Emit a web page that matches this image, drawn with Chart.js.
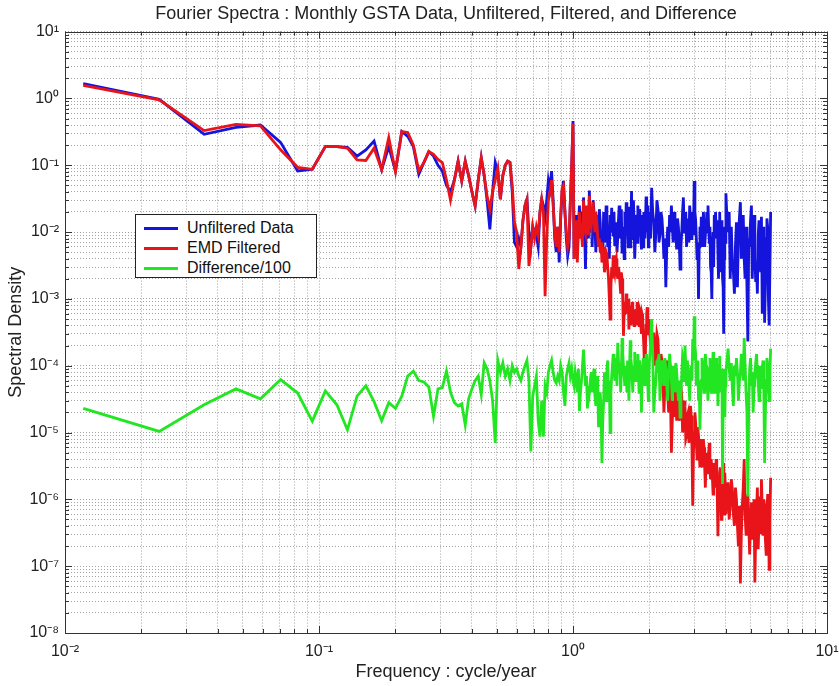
<!DOCTYPE html>
<html>
<head>
<meta charset="utf-8">
<script src="https://cdn.jsdelivr.net/npm/chart.js@4.4.1/dist/chart.umd.min.js"></script>
<style>
  body { margin: 0; background: #fff; }
  #wrap { position: relative; width: 839px; height: 686px; }
  #legend {
    position: absolute; left: 135px; top: 214px; width: 182px; height: 64px;
    background: #fff; border: 1px solid #222; box-sizing: border-box;
    font-family: "Liberation Sans", Arial, sans-serif; font-size: 16px; color: #111;
  }
  .row { position: absolute; left: 0; height: 20px; line-height: 20px; }
  .swatch { position: absolute; left: 8px; top: 9px; width: 34px; height: 3px; }
  .txt { position: absolute; left: 51px; top: 0; white-space: nowrap; }
</style>
</head>
<body>
<div id="wrap">
  <canvas id="chart" width="839" height="686"></canvas>
  <div id="legend"></div>
</div>
<script>
// ==========================
// DATA
// ==========================
const chartTitle = "Fourier Spectra : Monthly GSTA Data, Unfiltered, Filtered, and Difference";
const seriesLabels = ["Unfiltered Data", "EMD Filtered", "Difference/100"];

const xTickValues = [0.01, 0.1, 1, 10];
const xTickLabels = ["10\u207B\u00B2", "10\u207B\u00B9", "10\u2070", "10\u00B9"];
const yTickValues = [1e-8, 1e-7, 1e-6, 1e-5, 1e-4, 1e-3, 1e-2, 1e-1, 1, 10];
const yTickLabels = ["10\u207B\u2078", "10\u207B\u2077", "10\u207B\u2076", "10\u207B\u2075", "10\u207B\u2074",
                     "10\u207B\u00B3", "10\u207B\u00B2", "10\u207B\u00B9", "10\u2070", "10\u00B9"];

// frequency, cycle/year
const freq = [
  0.0118, 0.0235, 0.0353, 0.0471, 0.0588, 0.0706, 0.0824, 0.0941, 0.1059, 0.1176,
  0.1294, 0.1412, 0.1529, 0.1647, 0.1765, 0.1882, 0.2000, 0.2118, 0.2235, 0.2353,
  0.2471, 0.2588, 0.2706, 0.2824, 0.2941, 0.3059, 0.3176, 0.3294, 0.3412, 0.3529,
  0.3647, 0.3765, 0.3882, 0.4000, 0.4118, 0.4235, 0.4353, 0.4471, 0.4588, 0.4706,
  0.4824, 0.4941, 0.5059, 0.5176, 0.5294, 0.5412, 0.5529, 0.5647, 0.5765, 0.5882,
  0.6000, 0.6118, 0.6235, 0.6353, 0.6471, 0.6588, 0.6706, 0.6824, 0.6941, 0.7059,
  0.7176, 0.7294, 0.7412, 0.7529, 0.7647, 0.7765, 0.7882, 0.8000, 0.8118, 0.8235,
  0.8353, 0.8471, 0.8588, 0.8706, 0.8824, 0.8941, 0.9059, 0.9176, 0.9294, 0.9412,
  0.9529, 0.9647, 0.9765, 0.9882, 1.0000,
  1.01, 1.02, 1.03, 1.04, 1.05, 1.06, 1.07, 1.08, 1.09, 1.10,
  1.11, 1.12, 1.13, 1.14, 1.15, 1.16, 1.17, 1.18, 1.19, 1.20,
  1.21, 1.22, 1.23, 1.24, 1.25, 1.26, 1.27, 1.28, 1.29, 1.30,
  1.31, 1.32, 1.33, 1.34, 1.35, 1.36, 1.37, 1.38, 1.39, 1.40,
  1.41, 1.42, 1.43, 1.44, 1.45, 1.46, 1.47, 1.48, 1.49, 1.50,
  1.51, 1.52, 1.53, 1.54, 1.55, 1.56, 1.57, 1.58, 1.59, 1.60,
  1.61, 1.62, 1.63, 1.64, 1.65, 1.66, 1.67, 1.68, 1.69, 1.70,
  1.71, 1.72, 1.73, 1.74, 1.75, 1.76, 1.77, 1.78, 1.79, 1.80,
  1.81, 1.82, 1.83, 1.84, 1.85, 1.86, 1.87, 1.88, 1.89, 1.90,
  1.91, 1.92, 1.93, 1.94, 1.95, 1.96, 1.97, 1.98, 1.99, 2.00,
  2.02, 2.04, 2.06, 2.08, 2.10, 2.12, 2.14, 2.16, 2.18, 2.20,
  2.22, 2.24, 2.26, 2.28, 2.30, 2.32, 2.34, 2.36, 2.38, 2.40,
  2.42, 2.44, 2.46, 2.48, 2.50, 2.52, 2.54, 2.56, 2.58, 2.60,
  2.62, 2.64, 2.66, 2.68, 2.70, 2.72, 2.74, 2.76, 2.78, 2.80,
  2.82, 2.84, 2.86, 2.88, 2.90, 2.92, 2.94, 2.96, 2.98, 3.00,
  3.02, 3.04, 3.06, 3.08, 3.10, 3.12, 3.14, 3.16, 3.18, 3.20,
  3.22, 3.24, 3.26, 3.28, 3.30, 3.32, 3.34, 3.36, 3.38, 3.40,
  3.42, 3.44, 3.46, 3.48, 3.50, 3.52, 3.54, 3.56, 3.58, 3.60,
  3.62, 3.64, 3.66, 3.68, 3.70, 3.72, 3.74, 3.76, 3.78, 3.80,
  3.82, 3.84, 3.86, 3.88, 3.90, 3.92, 3.94, 3.96, 3.98, 4.00,
  4.04, 4.08, 4.12, 4.16, 4.20, 4.24, 4.28, 4.32, 4.36, 4.40,
  4.44, 4.48, 4.52, 4.56, 4.60, 4.64, 4.68, 4.72, 4.76, 4.80,
  4.84, 4.88, 4.92, 4.96, 5.00, 5.04, 5.08, 5.12, 5.16, 5.20,
  5.24, 5.28, 5.32, 5.36, 5.40, 5.44, 5.48, 5.52, 5.56, 5.60,
  5.64, 5.68, 5.72, 5.76, 5.80, 5.84, 5.88, 5.92, 5.96, 6.00
];

const unfiltered = [
  1.66, 0.97, 0.29, 0.37, 0.40, 0.22, 0.082, 0.087, 0.19, 0.19,
  0.185, 0.137, 0.17, 0.23, 0.086, 0.19, 0.082, 0.32, 0.27, 0.19,
  0.073, 0.11, 0.16, 0.137, 0.10, 0.082, 0.05, 0.04, 0.06, 0.115,
  0.058, 0.115, 0.07, 0.04, 0.0245, 0.06, 0.13, 0.07, 0.03, 0.011,
  0.04, 0.11, 0.08, 0.031, 0.07, 0.1, 0.115, 0.11, 0.04, 0.007,
  0.006, 0.008, 0.006, 0.015, 0.025, 0.031, 0.01, 0.006, 0.012, 0.01,
  0.009, 0.006, 0.02, 0.031, 0.025, 0.017, 0.03, 0.06, 0.045, 0.082,
  0.03, 0.008, 0.005, 0.012, 0.0035, 0.015, 0.04, 0.058, 0.02, 0.008,
  0.0044, 0.006, 0.03, 0.1, 0.46,
  0.004, 0.01, 0.018, 0.006, 0.012, 0.025, 0.009, 0.02, 0.007, 0.033,
  0.012, 0.0028, 0.02, 0.015, 0.008, 0.042, 0.01, 0.02, 0.006, 0.03,
  0.02, 0.012, 0.005, 0.018, 0.011, 0.006, 0.022, 0.014, 0.005, 0.009,
  0.004, 0.02, 0.012, 0.007, 0.025, 0.016, 0.006, 0.01, 0.004, 0.018,
  0.01, 0.023, 0.012, 0.009, 0.02, 0.0062, 0.01, 0.014, 0.005, 0.008,
  0.015, 0.025, 0.008, 0.015, 0.022, 0.005, 0.012, 0.009, 0.004, 0.02,
  0.009, 0.028, 0.015, 0.01, 0.006, 0.016, 0.024, 0.006, 0.012, 0.041,
  0.008, 0.02, 0.03, 0.012, 0.004, 0.008, 0.015, 0.018, 0.007, 0.025,
  0.014, 0.009, 0.022, 0.014, 0.008, 0.0055, 0.018, 0.012, 0.006, 0.02,
  0.012, 0.008, 0.015, 0.034, 0.01, 0.015, 0.025, 0.006, 0.011, 0.02,
  0.008, 0.046, 0.02, 0.014, 0.005, 0.01, 0.03, 0.022, 0.007, 0.009,
  0.02, 0.016, 0.009, 0.004, 0.008, 0.0015, 0.006, 0.012, 0.006, 0.018,
  0.01, 0.025, 0.012, 0.007, 0.02, 0.015, 0.009, 0.0055, 0.016, 0.012,
  0.007, 0.0028, 0.006, 0.01, 0.02, 0.033, 0.01, 0.012, 0.02, 0.006,
  0.01, 0.016, 0.007, 0.025, 0.015, 0.008, 0.012, 0.02, 0.009, 0.058,
  0.02, 0.015, 0.008, 0.004, 0.007, 0.001, 0.006, 0.012, 0.006, 0.017,
  0.01, 0.006, 0.02, 0.014, 0.006, 0.009, 0.015, 0.02, 0.01, 0.025,
  0.012, 0.007, 0.012, 0.003, 0.0025, 0.001, 0.005, 0.01, 0.003, 0.018,
  0.009, 0.02, 0.012, 0.008, 0.015, 0.005, 0.002, 0.012, 0.02, 0.006,
  0.0025, 0.015, 0.008, 0.002, 0.0015, 0.0003, 0.004, 0.012, 0.007, 0.038,
  0.015, 0.01, 0.02, 0.002, 0.012, 0.0035, 0.0025, 0.0012, 0.006, 0.014,
  0.0015, 0.009, 0.016, 0.028, 0.004, 0.008, 0.018, 0.004, 0.002, 0.012,
  0.0015, 0.00023, 0.008, 0.006, 0.015, 0.025, 0.002, 0.01, 0.018, 0.004,
  0.0018, 0.0028, 0.0012, 0.009, 0.015, 0.005, 0.0025, 0.017, 0.0006, 0.006,
  0.012, 0.00044, 0.0015, 0.008, 0.016, 0.012, 0.001, 0.0004, 0.0004, 0.02
];

const emdFiltered = [
  1.57, 0.95, 0.33, 0.41, 0.39, 0.17, 0.093, 0.087, 0.19, 0.19,
  0.18, 0.12, 0.118, 0.18, 0.086, 0.26, 0.08, 0.32, 0.31, 0.2,
  0.082, 0.11, 0.16, 0.145, 0.122, 0.11, 0.06, 0.03, 0.06, 0.115,
  0.058, 0.115, 0.07, 0.04, 0.0245, 0.06, 0.13, 0.07, 0.035, 0.022,
  0.04, 0.06, 0.09, 0.031, 0.07, 0.1, 0.115, 0.11, 0.05, 0.014,
  0.01, 0.0028, 0.006, 0.015, 0.025, 0.031, 0.0031, 0.006, 0.012, 0.008,
  0.012, 0.009, 0.02, 0.031, 0.02, 0.0011, 0.008, 0.03, 0.04, 0.06,
  0.025, 0.01, 0.006, 0.012, 0.005, 0.018, 0.045, 0.05, 0.02, 0.01,
  0.006, 0.008, 0.03, 0.1, 0.42,
  0.004, 0.008, 0.015, 0.0035, 0.01, 0.02, 0.008, 0.01, 0.006, 0.03,
  0.012, 0.01, 0.025, 0.02, 0.009, 0.035, 0.015, 0.012, 0.02, 0.028,
  0.015, 0.01, 0.02, 0.015, 0.009, 0.006, 0.008, 0.005, 0.007, 0.0035,
  0.005, 0.006, 0.0025, 0.003, 0.005, 0.0045, 0.003, 0.002, 0.001, 0.0005,
  0.0015, 0.003, 0.002, 0.0045, 0.003, 0.0025, 0.0035, 0.004, 0.0025, 0.002,
  0.003, 0.0025, 0.0018, 0.0012, 0.0025, 0.002, 0.001, 0.00028, 0.0006, 0.0009,
  0.0007, 0.0012, 0.0008, 0.0006, 0.001, 0.00035, 0.0006, 0.0008, 0.0004, 0.0005,
  0.0009, 0.0007, 0.0005, 0.0004, 0.0007, 0.0006, 0.0004, 0.0005, 0.0009, 0.00075,
  0.0005, 0.0004, 0.0007, 0.00065, 0.0004, 0.0003, 0.0006, 0.00055, 0.0003, 0.0002,
  0.0001, 0.00005, 0.0002, 0.0004, 0.0006, 0.00075, 0.0004, 0.0003, 0.0005, 0.0004,
  0.0002, 0.00018, 0.0003, 0.0003, 0.0001, 0.00015, 0.0003, 0.00025, 0.0001, 0.00006,
  0.00015, 0.00012, 0.00006, 0.00002, 0.00005, 0.00008, 0.00012, 0.00004, 0.00002, 0.00007,
  3e-5, 5e-6, 1.5e-5, 3e-5, 1.8e-5, 6e-5, 3e-5, 1.5e-5, 3e-5, 4e-5,
  1.5e-5, 2e-5, 5e-5, 3.5e-5, 1e-5, 1.2e-5, 3e-5, 2.5e-5, 8e-6, 9e-6,
  1.8e-5, 2e-5, 7e-6, 1.2e-5, 2.5e-5, 1.8e-5, 6e-6, 8e-7, 5e-6, 1e-5,
  2e-5, 1.4e-5, 7e-6, 4e-6, 1.2e-5, 9e-6, 5e-6, 3e-6, 6e-6, 8e-6,
  3e-6, 4.5e-6, 8e-6, 6e-6, 3e-6, 1.5e-6, 4e-6, 5e-6, 2.5e-6, 3e-6,
  5e-6, 7e-6, 3e-6, 2e-6, 4e-6, 4e-6, 2e-6, 1.2e-6, 2.5e-6, 3.5e-6,
  1.5e-6, 2e-6, 4e-6, 2.8e-6, 1e-6, 2.8e-7, 8e-7, 1.5e-6, 2.5e-6, 3e-6,
  1.2e-6, 5e-7, 1.2e-6, 2e-6, 3.5e-6, 1e-6, 6e-7, 2.5e-6, 1.5e-6, 6e-7,
  1.2e-6, 1.8e-6, 5e-7, 8e-7, 2e-6, 1.4e-6, 6e-7, 4e-7, 1.5e-6, 1e-6,
  4e-7, 2e-7, 8e-7, 5.5e-8, 3e-7, 8e-7, 1.5e-6, 4e-6, 6e-7, 3e-7,
  9e-7, 1.2e-6, 4e-7, 1.5e-7, 5e-7, 9e-7, 2.5e-7, 4e-7, 1e-6, 5.7e-8,
  3e-7, 6e-7, 1.5e-6, 1.8e-7, 5e-7, 1.1e-6, 3e-7, 2e-6, 7e-7, 3e-7,
  1e-6, 8e-7, 2.5e-7, 1.5e-7, 6e-7, 1.2e-6, 4e-7, 9e-8, 5e-7, 2.1e-6
];

const difference = [
  2.3e-5, 1.04e-5, 2.6e-5, 4.5e-5, 3.2e-5, 6.2e-5, 3.9e-5, 1.48e-5, 4.2e-5, 2.6e-5,
  1.1e-5, 3.5e-5, 5e-5, 2.9e-5, 1.5e-5, 2.8e-5, 2.3e-5, 3.5e-5, 7e-5, 8.3e-5,
  6e-5, 5.7e-5, 4.8e-5, 1.75e-5, 4.5e-5, 4.7e-5, 8.3e-5, 4e-5, 2.8e-5, 2.5e-5,
  2.7e-5, 1.3e-5, 3.2e-5, 4.5e-5, 6e-5, 7e-5, 3.7e-5, 1.1e-4, 9e-5, 6e-5,
  3e-5, 7e-6, 1.2e-4, 8e-5, 1.1e-4, 7e-5, 9e-5, 6e-5, 1e-4, 8e-5,
  9e-5, 7e-5, 6e-5, 8e-5, 1e-4, 1.2e-4, 6e-5, 5.2e-6, 3.5e-5, 5e-5,
  7e-5, 1.5e-5, 8.7e-6, 3e-5, 8.7e-6, 5e-5, 4e-5, 8e-5, 1e-4, 1.2e-4,
  8e-5, 6e-5, 5.5e-5, 7e-5, 6e-5, 1e-4, 8e-5, 4e-5, 2.5e-5, 7e-5,
  9e-5, 1.1e-4, 7e-5, 9e-5, 6e-5,
  5e-5, 8e-5, 6e-5, 4e-5, 9e-5, 2.1e-5, 4e-5, 6e-5, 1e-4, 1.75e-4,
  9e-5, 5e-5, 7e-5, 2.3e-5, 5e-5, 4e-5, 6e-5, 8e-5, 4e-5, 7e-5,
  9e-5, 3.5e-5, 2.5e-5, 5e-5, 7e-5, 1.2e-5, 3e-5, 4e-5, 2e-5, 3.5e-6,
  1.5e-5, 3e-5, 8e-5, 6e-5, 3e-5, 9e-5, 1.2e-4, 3e-5, 6e-5, 1e-5,
  4e-5, 7e-5, 1e-4, 1.5e-4, 9e-5, 6e-5, 1.3e-4, 1e-4, 5e-5, 2.2e-4,
  1.2e-4, 8e-5, 1.1e-4, 4e-5, 8e-5, 2.6e-4, 1.5e-4, 1e-4, 7e-5, 5e-5,
  1e-4, 7.8e-5, 4e-5, 1.2e-4, 7e-5, 3e-5, 9e-5, 2.4e-4, 1.3e-4, 1e-4,
  6e-5, 4e-5, 1e-4, 8e-5, 1.6e-4, 6e-5, 9e-5, 1.2e-4, 7e-5, 1.5e-4,
  8e-5, 4e-5, 1.2e-4, 9e-5, 5e-5, 2e-5, 6e-5, 7e-5, 1.3e-4, 1.1e-4,
  7e-5, 5e-5, 9e-5, 1.5e-4, 1e-4, 8e-5, 5e-5, 3e-5, 7e-5, 1.2e-4,
  2e-4, 5e-4, 1.5e-4, 2e-5, 4e-5, 6e-5, 1.2e-4, 7.8e-5, 1.5e-4, 3e-5,
  6e-5, 1.2e-4, 8e-5, 5e-5, 1.3e-4, 9e-5, 5e-5, 3e-5, 8e-5, 1.5e-4,
  1e-4, 6e-5, 3e-5, 1e-4, 7e-5, 4e-5, 1.1e-4, 8e-5, 5e-5, 3e-5,
  6e-5, 1.7e-5, 4e-5, 7e-5, 1.4e-4, 1.2e-4, 6e-5, 2e-4, 1e-4, 5e-5,
  1.2e-4, 7.8e-5, 5e-5, 3e-5, 7e-5, 1e-4, 6e-5, 2.5e-4, 1.2e-4, 5.5e-4,
  2e-4, 1.5e-4, 5e-5, 7.8e-5, 1.2e-4, 3e-5, 6e-5, 1.1e-5, 3e-5, 6e-5,
  1.3e-4, 1e-4, 6e-5, 4e-5, 8e-5, 1.5e-4, 1e-4, 8e-5, 5e-5, 3e-5,
  7e-5, 9e-5, 1.3e-4, 6e-5, 4e-5, 1.2e-4, 8e-5, 1.6e-4, 9e-5, 4e-5,
  6e-5, 9e-5, 1.3e-4, 5e-5, 8e-5, 2.5e-5, 5e-5, 1e-4, 1.4e-4, 6e-5,
  4e-5, 9e-5, 5e-5, 1.7e-6, 3e-5, 4e-5, 9e-5, 1.7e-5, 5e-5, 8e-5,
  1.2e-4, 1.8e-4, 9e-5, 6e-5, 1.1e-4, 4.5e-5, 2.5e-5, 1e-4, 7e-5, 1.3e-4,
  8e-5, 3e-5, 6e-5, 7.8e-5, 1.5e-4, 1.2e-4, 6e-5, 2.6e-4, 1e-4, 4e-5,
  2e-5, 1.1e-6, 3e-5, 9e-5, 1.3e-4, 5e-5, 8e-5, 2e-5, 5e-5, 8e-5,
  1.1e-4, 1.5e-4, 7e-5, 6e-5, 3e-5, 1e-4, 7e-5, 4.5e-5, 9e-5, 1.2e-4,
  4e-5, 3.5e-6, 2e-5, 6e-5, 1.3e-4, 1e-4, 5e-5, 3e-5, 8e-5, 1.8e-4
];

// ==========================
// HELPERS
// ==========================
const FONT = '"Liberation Sans", Arial, sans-serif';

function toPoints(values) {
  return freq.map((f, i) => ({ x: f, y: values[i] }));
}

// decades plus the 2..9 sub-ticks between them (log grid like matlab)
function withMinor(majors) {
  let out = [];
  for (let i = 0; i < majors.length; i++) {
    out.push(majors[i]);
    if (i < majors.length - 1) {
      for (let m = 2; m <= 9; m++) out.push(majors[i] * m);
    }
  }
  return out;
}

function labelFor(value, values, labels) {
  for (let i = 0; i < values.length; i++) {
    if (Math.abs(Math.log10(value) - Math.log10(values[i])) < 1e-6) return labels[i];
  }
  return "";
}

// box around the axes + little inward ticks on all four sides
const boxPlugin = {
  id: "box",
  afterDraw(chart) {
    const ctx = chart.ctx;
    const a = chart.chartArea;
    const xs = chart.scales.x, ys = chart.scales.y;
    ctx.save();
    ctx.strokeStyle = "#333";
    ctx.lineWidth = 1;
    ctx.beginPath();
    withMinor(xTickValues).forEach(v => {
      const px = Math.round(xs.getPixelForValue(v)) + 0.5;
      const len = labelFor(v, xTickValues, xTickLabels) ? 7 : 4;
      ctx.moveTo(px, a.bottom); ctx.lineTo(px, a.bottom - len);
      ctx.moveTo(px, a.top); ctx.lineTo(px, a.top + len);
    });
    withMinor(yTickValues).forEach(v => {
      const py = Math.round(ys.getPixelForValue(v)) + 0.5;
      const len = labelFor(v, yTickValues, yTickLabels) ? 7 : 4;
      ctx.moveTo(a.left, py); ctx.lineTo(a.left + len, py);
      ctx.moveTo(a.right, py); ctx.lineTo(a.right - len, py);
    });
    ctx.stroke();
    ctx.strokeRect(Math.round(a.left) + 0.5, Math.round(a.top) + 0.5,
                   Math.round(a.right - a.left), Math.round(a.bottom - a.top));
    ctx.restore();
  }
};

// ==========================
// CHART
// ==========================
const colors = ["#1414dc", "#e8141a", "#22e622"];
const seriesData = [unfiltered, emdFiltered, difference];

const gridStyle = { color: "rgba(90,90,90,0.55)", lineWidth: 1, drawTicks: false };

const chart = new Chart(document.getElementById("chart"), {
  type: "line",
  data: {
    datasets: seriesData.map((vals, i) => ({
      label: seriesLabels[i],
      data: toPoints(vals),
      borderColor: colors[i],
      backgroundColor: colors[i],
      borderWidth: 2.8,
      pointRadius: 0,
      tension: 0,
      order: 3 - i
    }))
  },
  options: {
    responsive: false,
    animation: false,
    events: [],
    layout: { padding: { left: 0, right: 12, top: 0, bottom: 0 } },
    plugins: {
      legend: { display: false },
      tooltip: { enabled: false },
      title: {
        display: true,
        text: chartTitle,
        fullSize: false,
        color: "#222",
        font: { family: FONT, size: 18, weight: "normal" },
        padding: { top: 3, bottom: 7 }
      }
    },
    scales: {
      x: {
        type: "logarithmic",
        min: 0.01,
        max: 10,
        afterBuildTicks: s => { s.ticks = withMinor(xTickValues).map(v => ({ value: v })); },
        afterFit: s => { s.height = 53; s.paddingLeft = 0; s.paddingRight = 0; },
        ticks: {
          autoSkip: false,
          maxRotation: 0,
          padding: 9,
          color: "#222",
          font: { family: FONT, size: 16 },
          callback: v => labelFor(v, xTickValues, xTickLabels)
        },
        grid: gridStyle,
        border: { display: false, dash: [1, 2] },
        title: {
          display: true,
          text: "Frequency : cycle/year",
          color: "#222",
          font: { family: FONT, size: 18 },
          padding: { top: 0, bottom: 3 }
        }
      },
      y: {
        type: "logarithmic",
        min: 1e-8,
        max: 10,
        afterBuildTicks: s => { s.ticks = withMinor(yTickValues).map(v => ({ value: v })); },
        afterFit: s => { s.width = 65; s.paddingTop = 0; s.paddingBottom = 0; },
        ticks: {
          autoSkip: false,
          padding: 6,
          color: "#222",
          font: { family: FONT, size: 16 },
          callback: v => labelFor(v, yTickValues, yTickLabels)
        },
        grid: gridStyle,
        border: { display: false, dash: [1, 2] },
        title: {
          display: true,
          text: "Spectral Density",
          color: "#222",
          font: { family: FONT, size: 18 },
          padding: { top: 5, bottom: 0 }
        }
      }
    }
  },
  plugins: [boxPlugin]
});

// ==========================
// LEGEND (inside the axes, top-left)
// ==========================
const legend = document.getElementById("legend");
seriesLabels.forEach((name, i) => {
  let row = document.createElement("div");
  row.className = "row";
  row.style.top = (3 + i * 20) + "px";
  row.style.width = "100%";
  row.innerHTML = '<span class="swatch" style="background:' + colors[i] + '"></span>' +
                  '<span class="txt">' + name + '</span>';
  legend.appendChild(row);
});
</script>
</body>
</html>
